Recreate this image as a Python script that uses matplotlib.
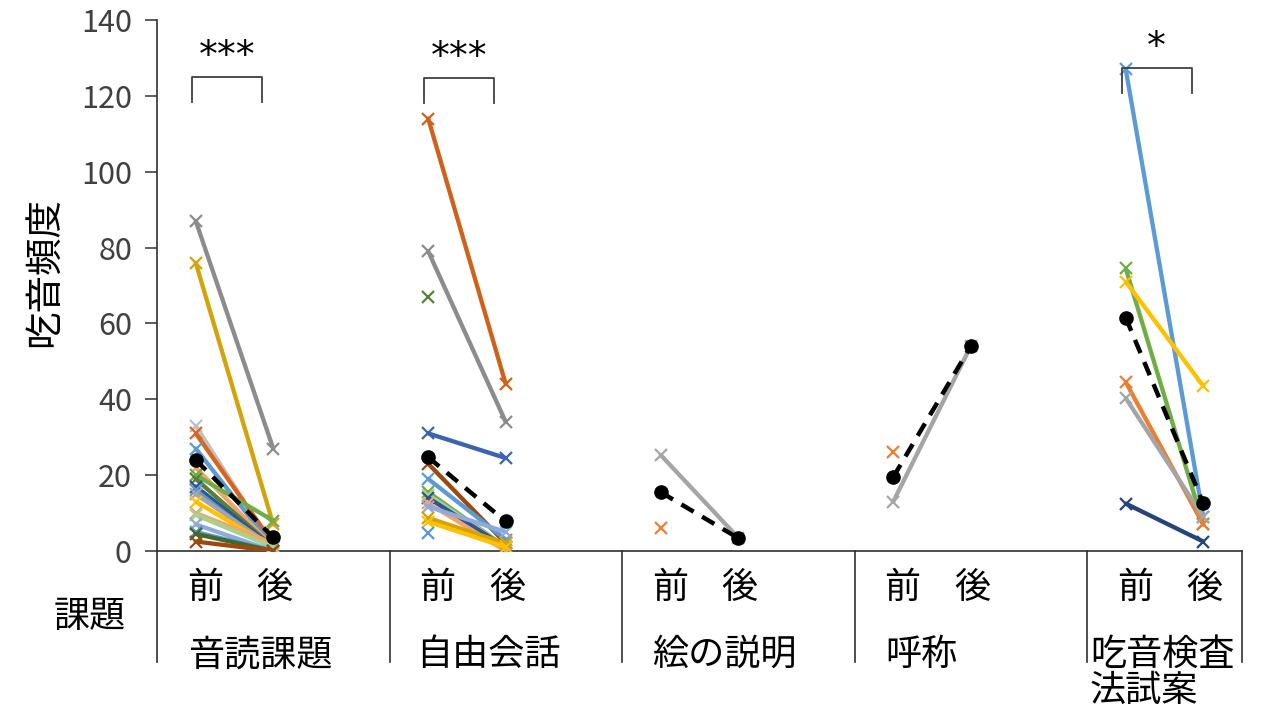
import numpy as np
import matplotlib
matplotlib.use("Agg")
import matplotlib.pyplot as plt

plt.rcParams['font.family'] = ['Noto Sans CJK JP', 'DejaVu Sans']

nan = np.nan

# Task names (group labels on the category axis)
tasks = ["音読課題", "自由会話", "絵の説明", "呼称", "吃音検査\n法試案"]
phase_labels = ["前", "後"]

# Individual participants: before / after values per task
reading_pre = [87, 76, 33, 31, 27, 22, 20, 19, 17, 16, 15, 13, 10, 9.5, 7, 5, 4.5, 2.5]
reading_post = [27, 7, 1, 2, 1, 1, 8, 1, 1, 0, 1, 1, 2, 1, 0, 0, 0, 0]
reading_colors = ['#8C8C8C', '#D4A20A', '#C0C0C0', '#D9661C', '#5B9BD5', '#F4A46A',
                  '#70AD47', '#548235', '#2F5597', '#5B9BD5', '#A5A5A5', '#FFC000',
                  '#F4A46A', '#A9D18E', '#8FAADC', '#5B9BD5', '#43682B', '#9E480E']

talk_pre = [114, 79, 67, 31, 23, 19, 15.5, 14.8, 14, 12.6, 11.7, 8.7, 7.7, 4.7]
talk_post = [44, 34, nan, 24.5, 2, 3, 1, 1, 1, 0, 5, 2, 1, nan]
talk_colors = ['#D0611A', '#8C8C8C', '#548235', '#3A64B0', '#9E480E', '#5B9BD5',
               '#70AD47', '#A9D18E', '#2F5597', '#F4A46A', '#8FAADC', '#D4A20A',
               '#FFC000', '#5B9BD5']

picture_pre = [25.3, 6]
picture_post = [3.5, nan]
picture_colors = ['#A5A5A5', '#ED7D31']

naming_pre = [13, 26]
naming_post = [54, nan]
naming_colors = ['#A5A5A5', '#ED7D31']

test_pre = [127, 74.5, 71, 44.5, 40.3, 12.5]
test_post = [9, 7, 43.5, 7, 9, 2.5]
test_colors = ['#5B9BD5', '#70AD47', '#FFC000', '#ED7D31', '#A5A5A5', '#264478']

# Group means
mean_pre = [24.0, 24.7, 15.5, 19.5, 61.5]
mean_post = [3.6, 7.8, 3.4, 54.0, 12.6]

# Significance marks per task (None = no bracket)
sig_marks = ["***", "***", None, None, "*"]

yticks = [0, 20, 40, 60, 80, 100, 120, 140]

groups = [
    (reading_pre, reading_post, reading_colors),
    (talk_pre, talk_post, talk_colors),
    (picture_pre, picture_post, picture_colors),
    (naming_pre, naming_post, naming_colors),
    (test_pre, test_post, test_colors),
]

W, H = 1261, 708
fig = plt.figure(figsize=(W / 100, H / 100), dpi=100)
x0_px, x1_px, y0_px, y1_px = 157, 1242, 551, 20
ax = fig.add_axes([x0_px / W, 1 - y0_px / H, (x1_px - x0_px) / W, (y0_px - y1_px) / H])

n_cat = 14
ax.set_xlim(-0.5, n_cat - 0.5)
ax.set_ylim(0, 140)

for g, (pre, post, cols) in enumerate(groups):
    xp, xq = 3 * g, 3 * g + 1
    for a, b, c in zip(pre, post, cols):
        if np.isnan(b):
            ax.plot([xp], [a], marker='x', color=c, ms=9, mew=1.6, zorder=3)
        else:
            ax.plot([xp, xq], [a, b], color=c, lw=3.1, marker='x', ms=9, mew=1.6,
                    solid_capstyle='round', zorder=3)
    ax.plot([xp, xq], [mean_pre[g], mean_post[g]], color='black', lw=3.2,
            ls=(0, (3.2, 2.2)), marker='o', ms=9.5, zorder=5)

# Significance brackets
bracket_top = [125.0, 124.6, None, None, 127.3]
for g, mark in enumerate(sig_marks):
    if mark is None:
        continue
    xl, xr = 3 * g - 0.05, 3 * g + 0.85
    top = bracket_top[g]
    ax.plot([xl, xl, xr, xr], [top - 6.5, top, top, top - 6.5], color='#404040',
            lw=1.3, solid_joinstyle='round', zorder=4)
    ax.text((xl + xr) / 2, top + 0.6, mark, ha='center', va='bottom',
            fontsize=27, family='DejaVu Sans', color='black')

# Axes styling
for s in ['top', 'right']:
    ax.spines[s].set_visible(False)
ax.spines['left'].set_color('#303030')
ax.spines['bottom'].set_color('#303030')
ax.spines['left'].set_linewidth(1.2)
ax.spines['bottom'].set_linewidth(1.2)
ax.set_yticks(yticks)
ax.set_yticklabels([str(v) for v in yticks])
ax.tick_params(axis='y', direction='out', length=9, width=1.1, colors='#303030',
               labelcolor='#404040', labelsize=22, pad=9)
ax.set_xticks([])

fig.text(45 / W, 1 - 272 / H, "吃音頻度", rotation=90, ha='center', va='center',
         fontsize=27, color='black')

# Category axis below the plot
xt = ax.get_xaxis_transform()
div_bottom = (y0_px - 662) / (y0_px - y1_px)
for xb in [-0.5, 2.5, 5.5, 8.5, 11.5, 13.5]:
    ax.plot([xb, xb], [0, div_bottom], transform=xt, color='#303030', lw=1.2,
            clip_on=False)

phase_y = (y0_px - 588) / (y0_px - y1_px)
name_y = (y0_px - 653) / (y0_px - y1_px)
name_offsets_px = [188, 416, 652, 885, 1090]
phase_shift = [0.12, 0.02]
for g in range(5):
    for k, lab in enumerate(phase_labels):
        ax.text(3 * g + k + phase_shift[k], phase_y, lab, transform=xt,
                ha='center', va='center', fontsize=26, clip_on=False)
    xn = (name_offsets_px[g] - x0_px) / 77.5 - 0.5
    ax.text(xn, name_y + 0.03, tasks[g], transform=xt, ha='left', va='top',
            fontsize=26, linespacing=0.98, clip_on=False)

fig.text(90 / W, 1 - 617 / H, "課題", ha='center', va='center', fontsize=26)

fig.savefig("out.png", dpi=100)
